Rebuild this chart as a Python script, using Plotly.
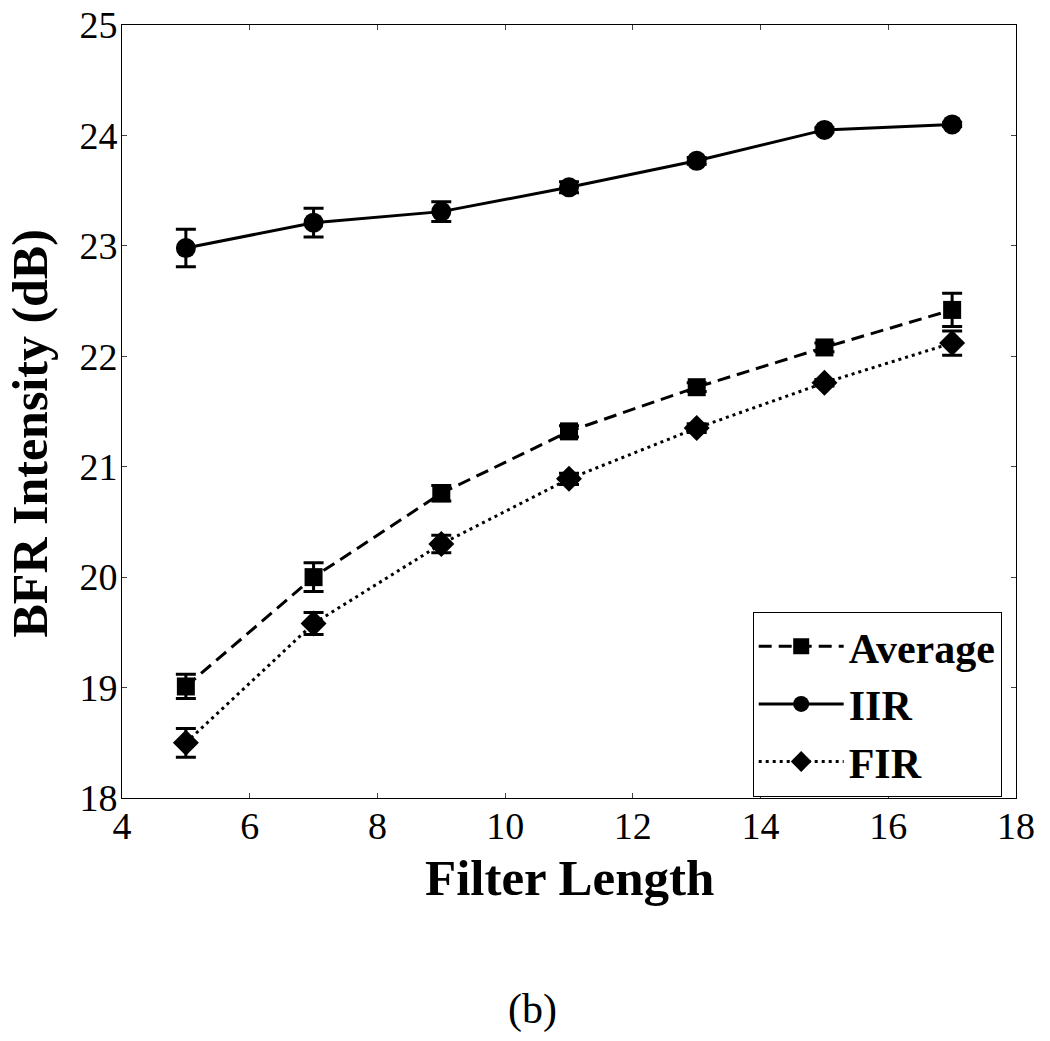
import plotly.graph_objects as go

filter_length = [5, 7, 9, 11, 13, 15, 17]
avg_vals = [19.01, 20.00, 20.76, 21.32, 21.72, 22.08, 22.42]
avg_err = [0.11, 0.13, 0.07, 0.05, 0.04, 0.04, 0.15]
iir_vals = [22.98, 23.21, 23.31, 23.53, 23.77, 24.05, 24.10]
iir_err = [0.17, 0.13, 0.09, 0.05, 0.03, 0.02, 0.02]
fir_vals = [18.50, 19.58, 20.30, 20.89, 21.35, 21.76, 22.12]
fir_err = [0.13, 0.10, 0.08, 0.05, 0.04, 0.03, 0.11]

x_ticks = [4, 6, 8, 10, 12, 14, 16, 18]
y_ticks = [18, 19, 20, 21, 22, 23, 24, 25]

font = "Liberation Serif, Times New Roman, serif"

fig = go.Figure()

def add(name, y, err, symbol, dash, size):
    fig.add_trace(go.Scatter(
        x=filter_length, y=y, name=name, mode="lines+markers",
        line=dict(color="black", width=3, dash=dash),
        marker=dict(symbol=symbol, size=size, color="black"),
        error_y=dict(type="data", array=err, visible=True, color="black", thickness=3, width=10),
    ))

add("Average", avg_vals, avg_err, "square", "13px,7px", 18)
add("IIR", iir_vals, iir_err, "circle", "solid", 20)
add("FIR", fir_vals, fir_err, "diamond", "3px,4px", 20)

fig.update_layout(
    width=1050, height=1041,
    paper_bgcolor="white", plot_bgcolor="white",
    margin=dict(l=122, r=34, t=25, b=243, autoexpand=False),
    font=dict(family=font, color="black", size=38),
    showlegend=True,
    legend=dict(
        x=0.984, y=0.1216, xanchor="right", yanchor="middle",
        bordercolor="black", borderwidth=1, bgcolor="white",
        font=dict(family=font, size=42, color="black", weight="bold"),
        itemwidth=85, tracegroupgap=0,
    ),
    xaxis=dict(
        range=[4, 18], tickvals=x_ticks, ticks="inside", ticklen=5,
        showline=True, linecolor="black", linewidth=1, mirror="ticks",
        showgrid=False, zeroline=False, tickfont=dict(size=38),
        ticklabeloverflow="allow", ticklabelstandoff=-6, automargin=False,
    ),
    yaxis=dict(
        range=[18, 25], tickvals=y_ticks, ticks="inside", ticklen=5,
        showline=True, linecolor="black", linewidth=1, mirror="ticks",
        showgrid=False, zeroline=False, tickfont=dict(size=38),
        ticklabeloverflow="allow", ticklabelstandoff=-4, automargin=False,
    ),
    annotations=[
        dict(text="<b>Filter Length</b>", xref="paper", yref="paper", x=0.5, y=-0.103,
             xanchor="center", yanchor="middle", showarrow=False, font=dict(size=51)),
        dict(text="<b>BFR Intensity (dB)</b>", xref="paper", yref="paper", x=-0.1025, y=0.472,
             xanchor="center", yanchor="middle", textangle=-90, showarrow=False, font=dict(size=50)),
        dict(text="(b)", xref="paper", yref="paper", x=0.459, y=-0.274,
             xanchor="center", yanchor="middle", showarrow=False, font=dict(size=42)),
    ],
)

fig.write_html("out.html", config={"displayModeBar": False},
               post_script="document.body.style.margin='0';")
